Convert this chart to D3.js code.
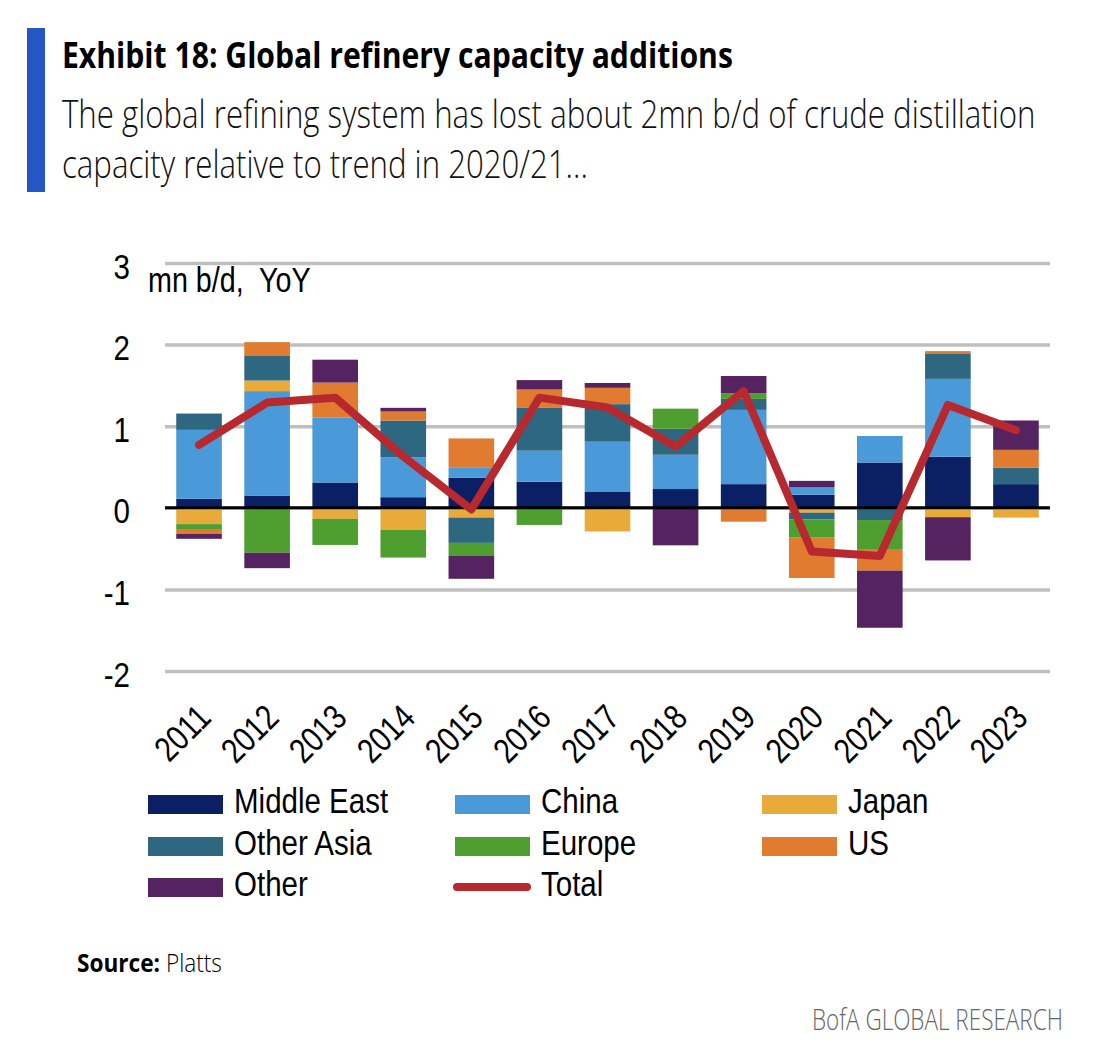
<!DOCTYPE html>
<html>
<head>
<meta charset="utf-8">
<script src="https://cdn.jsdelivr.net/npm/d3@7"></script>
<style>
  html, body { margin: 0; padding: 0; background: #fff; }
  svg { display: block; }
  .narrow { font-family: "Liberation Sans", Arial, sans-serif; }
</style>
</head>
<body>
<svg id="chart" width="1098" height="1063"></svg>
<script>
// ---------- data ----------
const years = ["2011","2012","2013","2014","2015","2016","2017","2018","2019","2020","2021","2022","2023"];
const seriesNames = ["Middle East","China","Japan","Other Asia","Europe","US","Other"];
const middleEast = [0.11, 0.15, 0.31, 0.13, 0.37, 0.32, 0.20, 0.23, 0.29, 0.16, 0.555, 0.625, 0.29];
const china      = [0.845, 1.28, 0.795, 0.49, 0.12, 0.38, 0.61, 0.42, 0.91, 0.09, 0.325, 0.955, 0];
const japan      = [-0.20, 0.13, -0.135, -0.27, -0.12, 0, -0.29, 0, 0, -0.06, 0, -0.115, -0.12];
const otherAsia  = [0.20, 0.30, 0, 0.45, -0.31, 0.53, 0.46, 0.32, 0.135, -0.08, -0.15, 0.305, 0.20];
const europe     = [-0.07, -0.55, -0.32, -0.34, -0.16, -0.21, 0, 0.245, 0.07, -0.22, -0.365, 0, 0];
const us         = [-0.05, 0.17, 0.43, 0.11, 0.36, 0.22, 0.20, 0, -0.17, -0.50, -0.255, 0.035, 0.22];
const other      = [-0.06, -0.19, 0.28, 0.045, -0.28, 0.115, 0.06, -0.46, 0.21, 0.08, -0.70, -0.53, 0.36];
const total      = [0.77, 1.29, 1.35, 0.63, -0.02, 1.35, 1.23, 0.75, 1.43, -0.535, -0.59, 1.26, 0.95];
const yTicks = [-2, -1, 0, 1, 2, 3];
const colors = ["#0b1f65", "#4a9ad9", "#e8ab3a", "#2d6780", "#4f9e30", "#e07b2f", "#55235f"];
const totalColor = "#b8292f";

const seriesValues = [middleEast, china, japan, otherAsia, europe, us, other];
const rows = years.map((yr, i) => {
  const r = { year: yr };
  seriesNames.forEach((n, k) => r[n] = seriesValues[k][i]);
  return r;
});

const NARROW = 0.82;

// ---------- layout ----------
const svg = d3.select("#chart");
const x = d3.scaleBand().domain(years).range([165, 1050]).paddingInner(0.33).paddingOuter(0.165);
const y = d3.scaleLinear().domain([-2, 3]).range([671, 263]);
const color = d3.scaleOrdinal().domain(seriesNames).range(colors);

// header bar
svg.append("rect").attr("x", 27).attr("y", 28).attr("width", 18).attr("height", 164).attr("fill", "#2457c5");

function fitText(sel, width) {
  const w = sel.node().getComputedTextLength();
  const sx = width / w;
  const x0 = +sel.attr("x");
  sel.attr("transform", `translate(${x0},0) scale(${sx},1) translate(${-x0},0)`);
  return sx;
}
function squeeze(sel) {
  sel.each(function() {
    const t = d3.select(this);
    const x0 = +t.attr("x") || 0;
    t.attr("transform", `translate(${x0},0) scale(${NARROW},1) translate(${-x0},0)`);
  });
}
const title = svg.append("text").attr("x", 62).attr("y", 68)
  .attr("font-family", "'Open Sans', 'Noto Sans', sans-serif").attr("font-weight", 700)
  .attr("font-size", 35).attr("fill", "#000").text("Exhibit 18: Global refinery capacity additions");
fitText(title, 671);

const sub1 = svg.append("text").attr("x", 62).attr("y", 128)
  .attr("font-family", "'Open Sans', 'Noto Sans', sans-serif").attr("font-weight", 300)
  .attr("font-size", 38).attr("fill", "#111").text("The global refining system has lost about 2mn b/d of crude distillation");
const sxs = fitText(sub1, 974);
const sub2 = svg.append("text").attr("x", 62).attr("y", 178)
  .attr("font-family", "'Open Sans', 'Noto Sans', sans-serif").attr("font-weight", 300)
  .attr("font-size", 38).attr("fill", "#111").text("capacity relative to trend in 2020/21...");
sub2.attr("transform", `translate(62,0) scale(${sxs},1) translate(-62,0)`);

// gridlines + y labels
const yAxis = svg.append("g").attr("transform", "translate(165,0)")
  .call(d3.axisLeft(y).tickValues(yTicks).tickSize(-885).tickPadding(35).tickFormat(d => String(d)));
yAxis.select(".domain").remove();
yAxis.selectAll(".tick line").attr("stroke", "#bfbfbf").attr("stroke-width", 3.5);
yAxis.selectAll(".tick text").attr("class", "narrow").attr("font-size", 36).attr("fill", "#000").attr("dy", "0.42em")
  .call(squeeze);

svg.append("text").attr("class", "narrow").attr("x", 148).attr("y", 292)
  .attr("font-size", 35).attr("fill", "#000").style("white-space", "pre").text("mn b/d,  YoY")
  .call(squeeze);

// stacked bars
const stack = d3.stack().keys(seriesNames).offset(d3.stackOffsetDiverging);
const stacked = stack(rows);
svg.append("g").selectAll("g").data(stacked).join("g")
  .attr("fill", d => color(d.key))
  .selectAll("rect").data(d => d).join("rect")
  .attr("x", d => x(d.data.year))
  .attr("width", x.bandwidth())
  .attr("y", d => y(Math.max(d[0], d[1])))
  .attr("height", d => Math.abs(y(d[0]) - y(d[1])));

// zero line
svg.append("line").attr("x1", 165).attr("x2", 1050).attr("y1", y(0)).attr("y2", y(0))
  .attr("stroke", "#000").attr("stroke-width", 3);

// total line
const line = d3.line().x((d, i) => x(years[i]) + x.bandwidth() / 2).y(d => y(d));
svg.append("path").datum(total).attr("d", line).attr("fill", "none")
  .attr("stroke", totalColor).attr("stroke-width", 8)
  .attr("stroke-linejoin", "round").attr("stroke-linecap", "round");

// x labels
const xAxis = svg.append("g").attr("transform", "translate(0,700)")
  .call(d3.axisBottom(x).tickSize(0).tickPadding(0));
xAxis.select(".domain").remove();
xAxis.selectAll(".tick text").attr("class", "narrow").attr("font-size", 35).attr("fill", "#000")
  .attr("x", 0).attr("y", 0).attr("dy", "0.35em").attr("text-anchor", "end")
  .attr("transform", `translate(5,11) rotate(-45) scale(${NARROW},1)`);

// legend
const legendItems = [
  { name: "Middle East", col: 0, row: 0 }, { name: "China", col: 1, row: 0 }, { name: "Japan", col: 2, row: 0 },
  { name: "Other Asia", col: 0, row: 1 }, { name: "Europe", col: 1, row: 1 }, { name: "US", col: 2, row: 1 },
  { name: "Other", col: 0, row: 2 }, { name: "Total", col: 1, row: 2 }
];
const colX = [148, 455, 762], rowY = [795, 837, 878];
const lg = svg.append("g");
legendItems.forEach(it => {
  const gx = colX[it.col], gy = rowY[it.row];
  if (it.name === "Total") {
    lg.append("line").attr("x1", 457).attr("x2", 527).attr("y1", gy + 9).attr("y2", gy + 9)
      .attr("stroke", totalColor).attr("stroke-width", 8).attr("stroke-linecap", "round");
  } else {
    lg.append("rect").attr("x", gx).attr("y", gy).attr("width", 75).attr("height", 19).attr("fill", color(it.name));
  }
  lg.append("text").attr("class", "narrow").attr("x", gx + 86).attr("y", gy + 18)
    .attr("font-size", 36).attr("fill", "#000").text(it.name).call(squeeze);
});

// source
const src = svg.append("text").attr("x", 77).attr("y", 972)
  .attr("font-family", "'Open Sans', 'Noto Sans', sans-serif").attr("font-size", 25).attr("fill", "#000");
src.append("tspan").attr("font-weight", 700).text("Source:");
src.append("tspan").attr("font-weight", 300).text(" Platts");
fitText(src, 145);

const bofa = svg.append("text").attr("x", 812).attr("y", 1030)
  .attr("font-family", "'Open Sans', 'Noto Sans', sans-serif").attr("font-weight", 300)
  .attr("font-size", 29).attr("fill", "#666").text("BofA GLOBAL RESEARCH");
fitText(bofa, 251);
</script>
</body>
</html>
